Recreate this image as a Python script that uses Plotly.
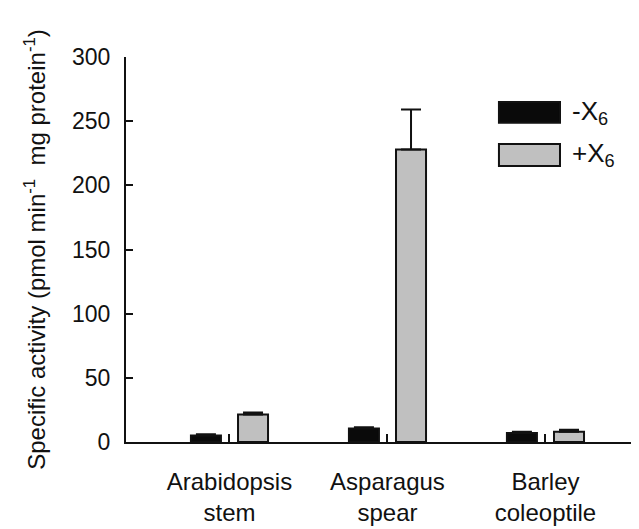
import plotly.graph_objects as go

categories = ["Arabidopsis<br>stem", "Asparagus<br>spear", "Barley<br>coleoptile"]
series_names = ["-X<sub>6</sub>", "+X<sub>6</sub>"]
minus_x6 = [5, 10.5, 7]
minus_x6_err = [1, 1, 1]
plus_x6 = [21.5, 228, 8]
plus_x6_err = [1.5, 31, 1.5]
y_ticks = [0, 50, 100, 150, 200, 250, 300]

colors = ["#0a0a0a", "#c0c0c0"]
FONT = "Arial, Liberation Sans, sans-serif"

xpos = list(range(len(categories)))
bw = 0.19
offsets = [-0.149 - bw / 2, 0.149 - bw / 2]

fig = go.Figure()
for vals, errs, col, off, name in zip([minus_x6, plus_x6], [minus_x6_err, plus_x6_err],
                                      colors, offsets, series_names):
    fig.add_trace(go.Bar(
        x=xpos, y=vals, width=bw, offset=off, name=name,
        marker=dict(color=col, line=dict(color="#111111", width=2)),
        error_y=dict(type="data", array=errs, arrayminus=[0] * len(errs), symmetric=False,
                     color="#111111", thickness=2, width=10),
        showlegend=False,
    ))

# legend drawn manually
leg_y = [(0.829, 0.883), (0.717, 0.774)]
for (y0, y1), col, name in zip(leg_y, colors, series_names):
    fig.add_shape(type="rect", xref="paper", yref="paper", x0=0.727, x1=0.846, y0=y0, y1=y1,
                  fillcolor=col, line=dict(color="#111111", width=2))
    fig.add_annotation(xref="paper", yref="paper", x=0.866, y=(y0 + y1) / 2, text=name,
                       showarrow=False, xanchor="left", yanchor="middle",
                       font=dict(size=26, color="#111111", family=FONT))

fig.update_layout(
    width=631, height=521,
    margin=dict(l=118, r=0, t=49, b=87),
    plot_bgcolor="white", paper_bgcolor="white",
    barmode="overlay",
    font=dict(family=FONT, color="#111111", size=24),
    xaxis=dict(range=[-0.655, 2.592], tickmode="array", tickvals=xpos, ticktext=categories,
               ticks="inside", ticklen=8, tickwidth=2, tickcolor="#111111",
               showline=True, linecolor="#111111", linewidth=2, showgrid=False, zeroline=False,
               tickfont=dict(size=24), ticklabelstandoff=17, automargin=False),
    yaxis=dict(range=[0, 300], tickmode="array", tickvals=y_ticks,
               ticks="inside", ticklen=7, tickwidth=2, tickcolor="#111111",
               showline=True, linecolor="#111111", linewidth=2, showgrid=False, zeroline=False,
               tickfont=dict(size=23), ticklabelstandoff=9, automargin=False,
               title=dict(text="Specific activity (pmol min<sup>-1</sup>  mg protein<sup>-1</sup>)",
                          font=dict(size=24), standoff=20)),
)

fig.write_html("out.html")
